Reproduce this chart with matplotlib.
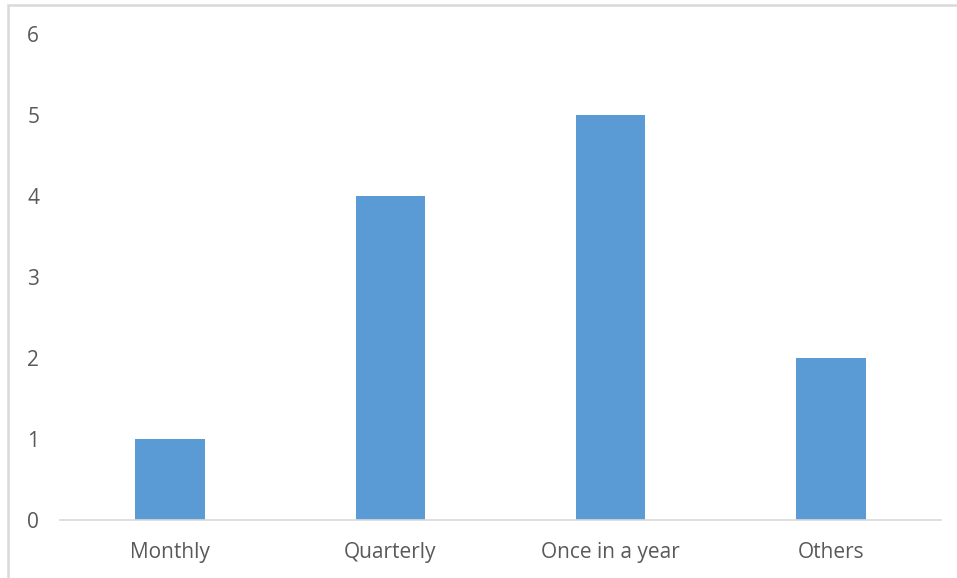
import matplotlib.pyplot as plt
from matplotlib.patches import Rectangle

categories = ['Monthly', 'Quarterly', 'Once in a year', 'Others']
counts = [1, 4, 5, 2]
y_ticks = [0, 1, 2, 3, 4, 5, 6]

plt.rcParams['font.family'] = ['Open Sans', 'DejaVu Sans']

W, H = 957, 578
fig = plt.figure(figsize=(W / 100, H / 100), dpi=100)
ax = fig.add_axes([60 / W, 1 - 520 / H, (941 - 60) / W, (520 - 34) / H])

x = range(len(categories))
ax.bar(x, counts, width=0.315, color='#5B9BD5', zorder=2)

ax.set_xlim(-0.5, len(categories) - 0.5)
ax.set_ylim(0, 6)
ax.set_yticks(y_ticks)
ax.set_xticks(list(x))
ax.set_xticklabels(categories)

for side in ['top', 'right', 'left']:
    ax.spines[side].set_visible(False)
ax.spines['bottom'].set_color('#D9D9D9')
ax.spines['bottom'].set_linewidth(1.2)

ax.tick_params(axis='both', length=0, labelsize=15, labelcolor='#595959')
ax.tick_params(axis='y', pad=15)
ax.tick_params(axis='x', pad=16)
for lbl in ax.get_yticklabels():
    lbl.set_horizontalalignment('right')

# chart area frame (only top and left edges fall inside the image)
fig.patches.append(Rectangle((8 / W, -0.1), 1.2, 1.1 - 5 / H, transform=fig.transFigure,
                             fill=False, edgecolor='#D9D9D9', linewidth=1.8))

fig.savefig('out.png', dpi=100)
